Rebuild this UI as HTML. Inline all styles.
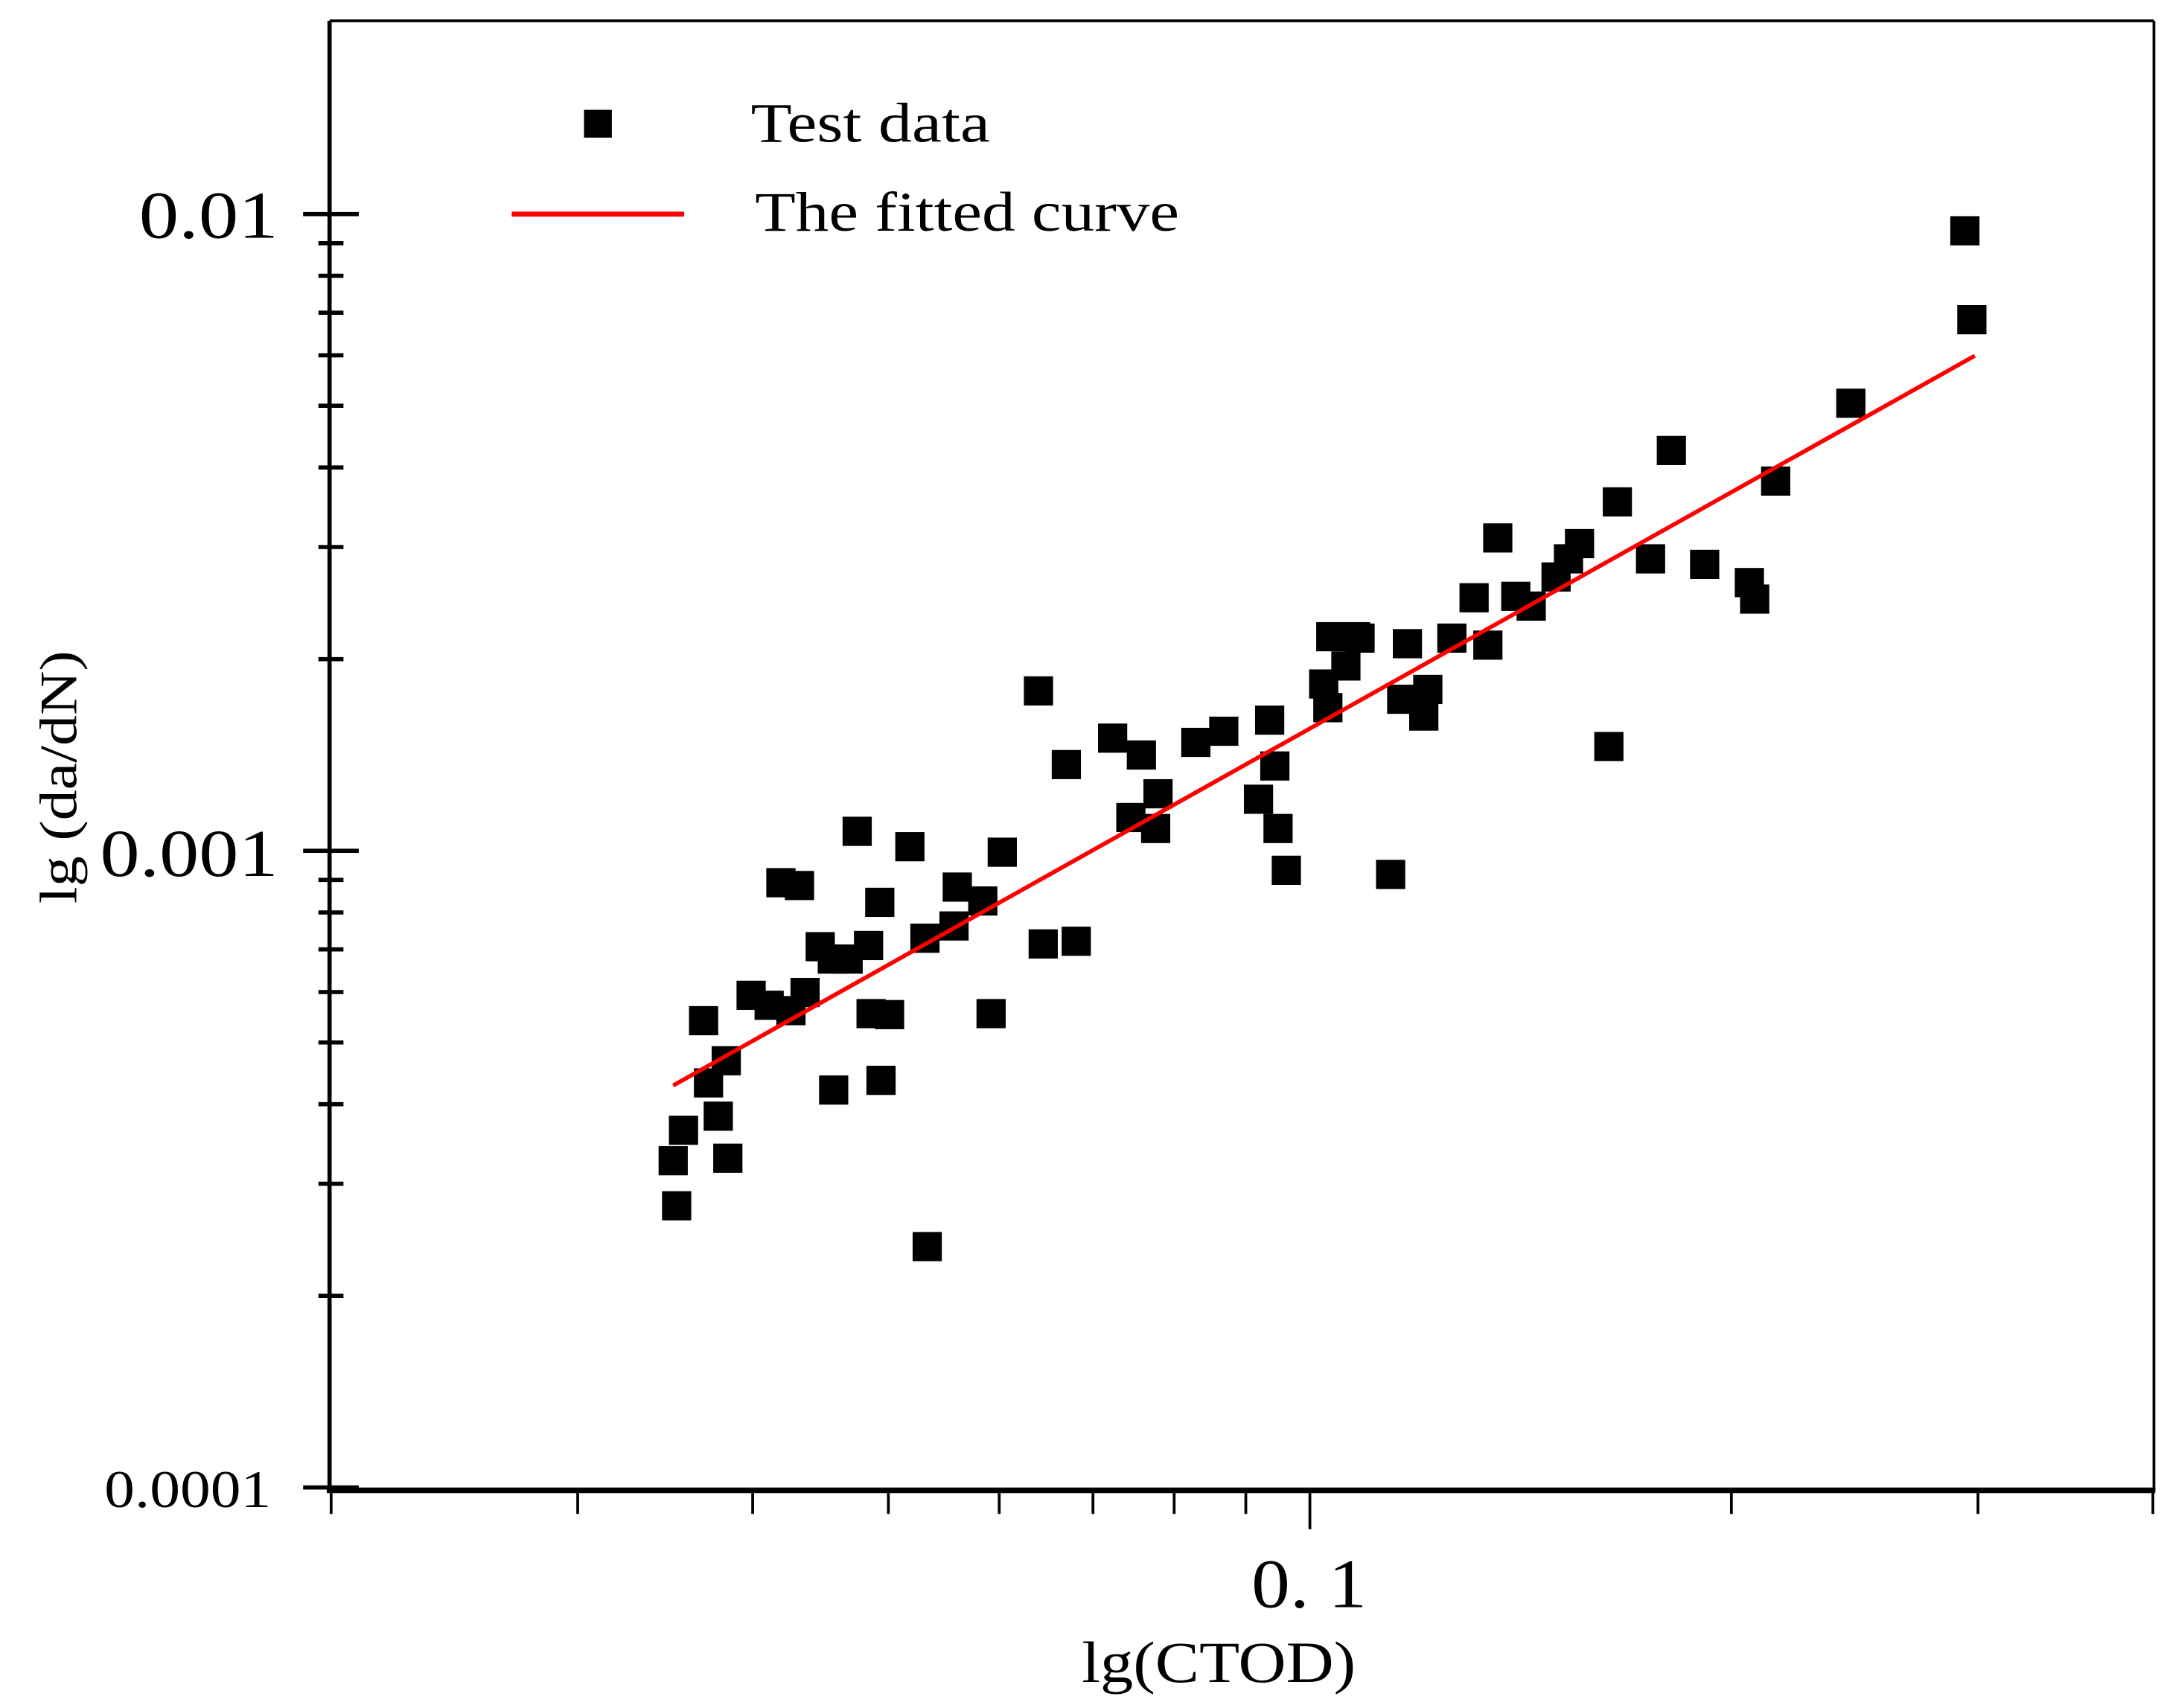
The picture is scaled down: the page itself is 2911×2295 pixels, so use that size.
<!DOCTYPE html>
<html><head><meta charset="utf-8"><style>
html,body{margin:0;padding:0;background:#fff;}
svg{display:block;font-family:"Liberation Serif",serif;}
</style></head><body>
<svg id="chart" width="2911" height="2295" viewBox="0 0 1558.4 1228.6" preserveAspectRatio="none" xmlns="http://www.w3.org/2000/svg">
<rect x="0" y="0" width="1558.4" height="1228.6" fill="#fff"/>
<g id="frame">
<line x1="237" y1="15" x2="1549" y2="15" stroke="#000" stroke-width="2"/>
<line x1="1549" y1="15" x2="1549" y2="1072" stroke="#000" stroke-width="2"/>
<line x1="237" y1="15" x2="237" y2="1073" stroke="#000" stroke-width="3"/>
<line x1="235" y1="1072" x2="1550" y2="1072" stroke="#000" stroke-width="4"/>
</g>
<g id="yticks"></g>
<g id="xticks"></g>
<g id="points"></g>
<g id="fit"></g>
<g id="legend">
<rect x="420" y="79" width="20" height="20" fill="#000"/>
<text x="540" y="102" font-size="40" textLength="172" lengthAdjust="spacingAndGlyphs">Test data</text>
<line x1="368" y1="154" x2="492" y2="154" stroke="#f00" stroke-width="3.5"/>
<text x="543" y="166" font-size="40" textLength="305" lengthAdjust="spacingAndGlyphs">The fitted curve</text>
</g>
<text x="200" y="171" font-size="48" text-anchor="end" textLength="100" lengthAdjust="spacingAndGlyphs">0.01</text>
<text x="200" y="630" font-size="48" text-anchor="end" textLength="128" lengthAdjust="spacingAndGlyphs">0.001</text>
<text x="195" y="1084" font-size="38" text-anchor="end" textLength="120" lengthAdjust="spacingAndGlyphs">0.0001</text>
<text x="900" y="1156" font-size="50" textLength="83" lengthAdjust="spacingAndGlyphs">0. 1</text>
<text x="778" y="1210" font-size="42" textLength="197" lengthAdjust="spacingAndGlyphs">lg(CTOD)</text>
<text transform="translate(55,650) rotate(-90)" x="0" y="0" font-size="38" textLength="182" lengthAdjust="spacingAndGlyphs">lg (da/dN)</text>
</svg>
<script>
const ctod = [0.0351,0.0353,0.0357,0.0369,0.0372,0.0378,0.0383,0.0384,0.0399,0.0411,0.0419,0.0426,0.0432,0.0436,0.0447,0.0456,0.0457,0.0468,0.0475,0.0484,0.0486,0.0493,0.0494,0.0501,0.0518,0.0531,0.0533,0.0557,0.0560,0.0584,0.0592,0.0603,0.0645,0.0640,0.0670,0.0681,0.0723,0.0745,0.0758,0.0776,0.0779,0.0829,0.0868,0.0919,0.0936,0.0944,0.0949,0.0962,0.1023,0.1030,0.1035,0.1061,0.1078,0.1086,0.1142,0.1163,0.1174,0.1206,0.1214,0.1263,0.1310,0.1340,0.1362,0.1403,0.1439,0.1499,0.1530,0.1558,0.1635,0.1658,0.1751,0.1812,0.1914,0.2060,0.2078,0.2151,0.2434,0.2936,0.2970];
const dadn = [0.000326,0.000277,0.000364,0.000541,0.000432,0.000383,0.000468,0.000329,0.000593,0.000572,0.000891,0.000561,0.000882,0.000599,0.000707,0.000676,0.000421,0.000676,0.001073,0.000710,0.000555,0.000830,0.000436,0.000553,0.001015,0.000729,0.000239,0.000762,0.000877,0.000834,0.000555,0.000995,0.000714,0.001783,0.001366,0.000721,0.001503,0.001128,0.001414,0.001084,0.001229,0.001480,0.001541,0.001205,0.001604,0.001359,0.001084,0.000932,0.001828,0.001678,0.002169,0.001951,0.002169,0.002158,0.000918,0.001730,0.002115,0.001628,0.001792,0.002158,0.002497,0.002104,0.003100,0.002510,0.002423,0.002692,0.002874,0.003037,0.001458,0.003532,0.002874,0.004253,0.002817,0.002638,0.002485,0.003808,0.005046,0.009415,0.006825];
const fitX = [0.0351,0.2984];
const fitY = [0.000428,0.00599];
const yMajor = [0.0001,0.001,0.01];
const yMinor = [0.0002,0.0003,0.0004,0.0005,0.0006,0.0007,0.0008,0.0009,0.002,0.003,0.004,0.005,0.006,0.007,0.008,0.009];
const xMajor = [0.1];
const xMinor = [0.02,0.03,0.04,0.05,0.06,0.07,0.08,0.09,0.2,0.3,0.4];

const NS = "http://www.w3.org/2000/svg";
function xs(v){ return 942 + 1007*(Math.log10(v)+1); }
function ys(v){ return 154 - 458*(Math.log10(v)+2); }
function mk(tag, attrs, parent){ const e=document.createElementNS(NS,tag); for(const k in attrs) e.setAttribute(k,attrs[k]); parent.appendChild(e); return e; }

const yt=document.getElementById('yticks');
yMajor.forEach(v=>{ const l=mk('line',{x1:218,x2:258,y1:ys(v),y2:ys(v),stroke:'#000','stroke-width':3},yt);

 });
yMinor.forEach(v=>{ const l=mk('line',{x1:229,x2:247,y1:ys(v),y2:ys(v),stroke:'#000','stroke-width':3},yt);

 });
const xt=document.getElementById('xticks');
xMajor.forEach(v=>{ const l=mk('line',{x1:xs(v),x2:xs(v),y1:1072,y2:1100,stroke:'#000','stroke-width':2},xt);

 });
xMinor.forEach(v=>{ const l=mk('line',{x1:xs(v),x2:xs(v),y1:1072,y2:1089,stroke:'#000','stroke-width':2},xt);

 });

const pg=document.getElementById('points');
ctod.forEach((v,i)=>{ const r=mk('rect',{x:xs(v)-10.5,y:ys(dadn[i])-10.5,width:21,height:21,fill:'#000'},pg);

 });

const fg=document.getElementById('fit');
const fl=mk('line',{x1:xs(fitX[0]),y1:ys(fitY[0]),x2:xs(fitX[1]),y2:ys(fitY[1]),stroke:'#f00','stroke-width':3},fg);


</script>
</body></html>
